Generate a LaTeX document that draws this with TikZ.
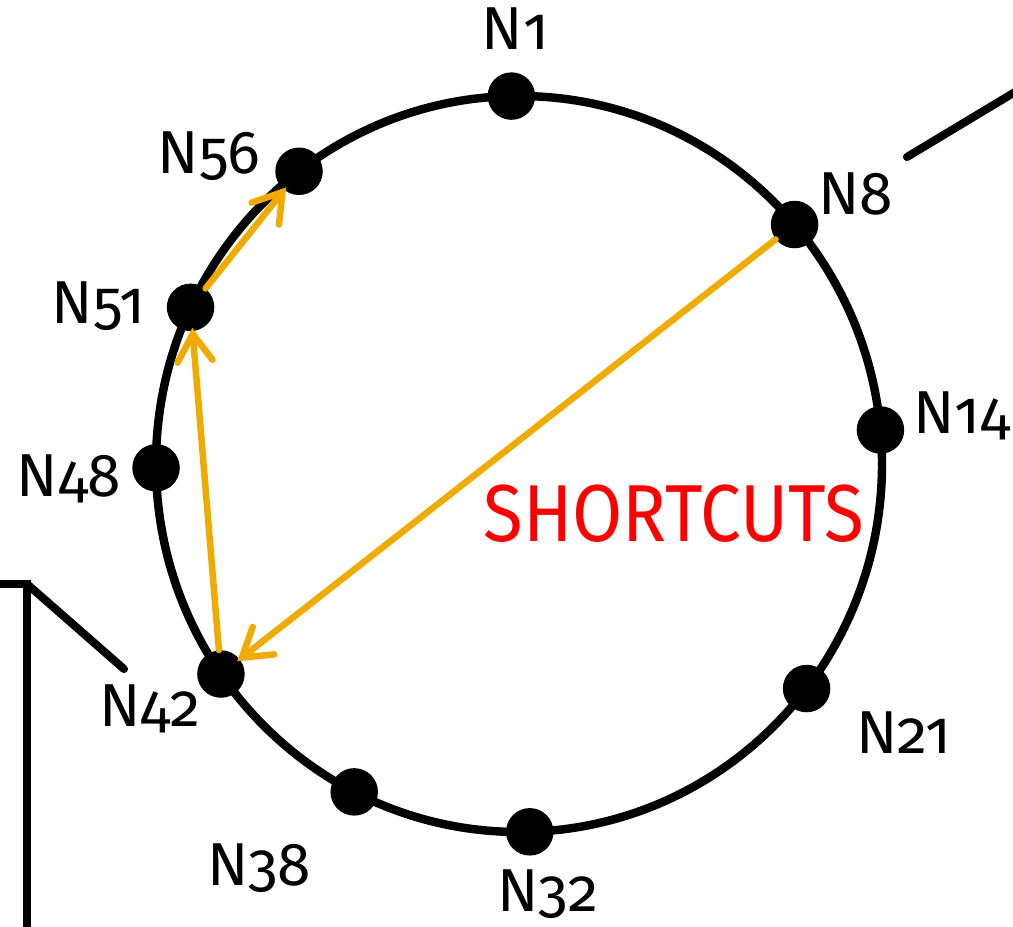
\documentclass[tikz,border=0pt]{standalone}
\usepackage{fontspec}
\setmainfont{Fira Sans}[Numbers=OldStyle]
\usetikzlibrary{arrows.meta,calc,positioning}
\definecolor{ink}{HTML}{000000}
\definecolor{hop}{HTML}{F0AB00}
\definecolor{scrawl}{HTML}{FF0000}
\tikzset{
  x=0.02cm,y=0.02cm,
  ring/.style={draw=ink,line width=4.8pt},
  peer/.style={circle,fill=ink,minimum size=0.95cm,inner sep=0pt},
  lbl/.style={anchor=base,inner sep=0pt,font=\fontsize{34.5}{40}\selectfont,text=ink},
  wire/.style={draw=ink,line width=4.6pt,line cap=round},
  hoparrow/.style={-{Straight Barb[length=5.5mm,width=7mm,line cap=round]},line width=3.7pt,draw=hop,line cap=round,shorten >=-2pt},
  scribble/.style={anchor=base,inner sep=0pt,font=\fontsize{46}{50}\selectfont,text=scrawl},
}

\begin{document}
\begin{tikzpicture}
\useasboundingbox (0,0) rectangle (1013,926);

% the ring
\coordinate (c) at (519,462);
\draw[ring] (c) ellipse [x radius=363,y radius=368];

% peers on the ring
\node[peer] (n1)  at ($(c)+(91.2:363 and 368)$) {};
\node[peer] (n56) at ($(c)+(127.3:363 and 368)$) {};
\node[peer] (n8)  at ($(c)+(40.6:363 and 368)$) {};
\node[peer] (n51) at ($(c)+(154.8:363 and 368)$) {};
\node[peer] (n14) at ($(c)+(5.3:363 and 368)$) {};
\node[peer] (n48) at ($(c)+(180.6:363 and 368)$) {};
\node[peer] (n42) at ($(c)+(214.8:363 and 368)$) {};
\node[peer] (n21) at ($(c)+(322.4:363 and 368)$) {};
\node[peer] (n38) at ($(c)+(243:363 and 368)$) {};
\node[peer] (n32) at ($(c)+(271.7:363 and 368)$) {};

\node[lbl] (l1)  at ($(n1)+(4,47)$) {N1};
\node[lbl] (l56) at ($(n56)+(-90,-2)$) {N56};
\node[lbl] (l8)  at ($(n8)+(61,10)$) {N8};
\node[lbl] (l51) at ($(n51)+(-92,-16)$) {N51};
\node[lbl] (l14) at ($(n14)+(81,-3)$) {N14};
\node[lbl] (l48) at ($(n48)+(-87,-29)$) {N48};
\node[lbl] (l42) at ($(n42)+(-71,-52)$) {N42};
\node[lbl] (l21) at ($(n21)+(97,-65)$) {N21};
\node[lbl] (l38) at ($(n38)+(-95,-94)$) {N38};
\node[lbl] (l32) at ($(n32)+(18,-80)$) {N32};

% shortcuts
\draw[hoparrow] (n8) -- (n42);
\draw[hoparrow] (n42) -- (n51);
\draw[hoparrow] (n51) -- (n56);
\node[scribble] (sc) at (674,384) {\scalebox{0.9}[1]{SHORTCUTS}};

% stray wires
\coordinate (wl) at (-10,342);
\coordinate (wc) at (27,342);
\coordinate (wb) at (27,-10);
\coordinate (wd) at (124,257);
\draw[wire,line cap=butt,line join=miter] (wl) -- (wc) -- (wb);
\draw[wire] (wc) -- (wd);
\coordinate (wr) at (907,769);
\coordinate (we) at (1025,840);
\draw[wire] (wr) -- (we);

\end{tikzpicture}
\end{document}
